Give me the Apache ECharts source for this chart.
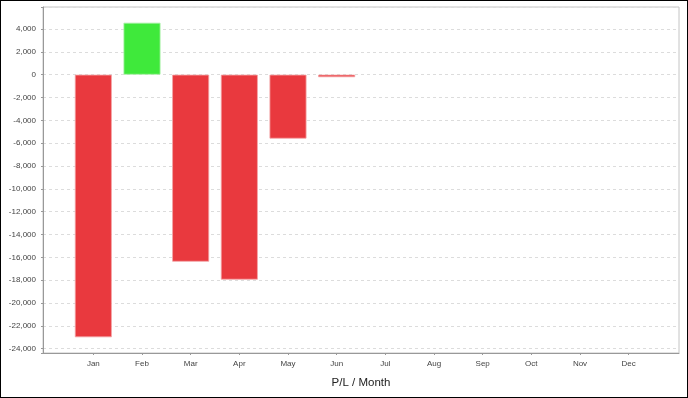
<!DOCTYPE html>
<html>
<head>
<meta charset="utf-8">
<script src="https://cdn.jsdelivr.net/npm/echarts@6/dist/echarts.min.js"></script>
<style>
html,body{margin:0;padding:0;background:#fff;}
#wrap{position:relative;width:688px;height:398px;}
#chart{position:absolute;left:0;top:0;width:688px;height:398px;}
#frame{position:absolute;left:0;top:0;width:688px;height:398px;box-sizing:border-box;border:1.5px solid #000;pointer-events:none;}
</style>
</head>
<body>
<div id="wrap"><div id="chart"></div><div id="frame"></div></div>
<script>
const months = ['Jan','Feb','Mar','Apr','May','Jun','Jul','Aug','Sep','Oct','Nov','Dec'];
const profitLoss = [-23000, 4550, -16380, -17950, -5600, -220, null, null, null, null, null, null];
const axisTitle = 'P/L / Month';
const tickStep = 2000;

const vals = profitLoss.filter(v => v !== null);
const dMin = Math.min(0, ...vals), dMax = Math.max(0, ...vals);
const span = dMax - dMin;
const yMin = dMin - span * 0.05, yMax = dMax + span * 0.05;

const font = 'Liberation Sans, Arial, sans-serif';
const chart = echarts.init(document.getElementById('chart'), null, {renderer: 'canvas'});
const isTick = v => Math.abs(v % tickStep) < 1e-6;
const fmt = v => isTick(v) ? v.toLocaleString('en-US') : '';

chart.setOption({
  animation: false,
  grid: [
    {left: 43, right: 9, top: 7, bottom: 45, show: true, borderColor: '#c4c4c4', borderWidth: 1, backgroundColor: '#fff'},
    {left: 69, right: 35, top: 7, bottom: 45}
  ],
  xAxis: [
    {gridIndex: 0, type: 'value', min: 0, max: 1,
     axisLine: {show: true, onZero: false, lineStyle: {color: '#999', width: 1}},
     axisTick: {show: false}, axisLabel: {show: false}, splitLine: {show: false},
     name: axisTitle, nameLocation: 'middle', nameGap: 24,
     nameTextStyle: {fontFamily: font, fontSize: 11.5, color: '#222'}},
    {gridIndex: 1, type: 'category', data: months, boundaryGap: true,
     axisLine: {show: false, onZero: false},
     axisTick: {show: true, alignWithLabel: true, length: 2, lineStyle: {color: '#999'}},
     axisLabel: {fontFamily: font, fontSize: 8, color: '#444', margin: 7},
     splitLine: {show: false}}
  ],
  yAxis: [
    {gridIndex: 0, type: 'value', min: yMin, max: yMax, minInterval: tickStep, maxInterval: tickStep,
     axisLine: {show: true, onZero: false, lineStyle: {color: '#999', width: 1}},
     axisTick: {show: true, length: 2, lineStyle: {color: '#999'}},
     axisLabel: {fontFamily: font, fontSize: 8, color: '#444', margin: 7, formatter: fmt},
     splitLine: {show: true, lineStyle: {color: '#dcdcdc', type: [3, 3], width: 1}}},
    {gridIndex: 1, type: 'value', min: yMin, max: yMax, show: false}
  ],
  series: [{
    type: 'bar', xAxisIndex: 1, yAxisIndex: 1,
    data: profitLoss.map(v => v === null ? null : {
      value: v,
      itemStyle: {color: v >= 0 ? '#3fe93b' : '#e9393e', borderColor: v >= 0 ? '#a8f0a6' : '#f3a4a6', borderWidth: 0.8}
    }),
    barWidth: '76%'
  }]
});
</script>
</body>
</html>
